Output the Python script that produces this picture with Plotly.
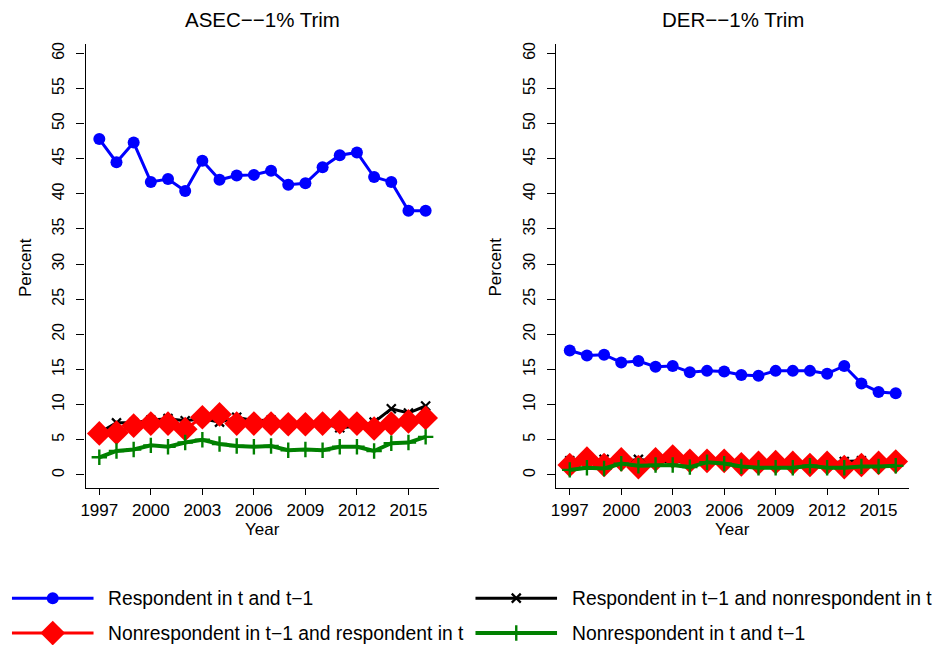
import plotly.graph_objects as go

W, H = 939, 645

years = list(range(1997, 2017))

# ASEC, 1% trim
asec_resp_both = [47.8, 44.5, 47.3, 41.7, 42.1, 40.4, 44.7, 42.0, 42.6, 42.7,
                  43.3, 41.3, 41.5, 43.8, 45.5, 45.9, 42.4, 41.7, 37.6, 37.6]
asec_resp_prev = [6.0, 7.4, 7.4, 7.8, 8.0, 7.7, 8.0, 7.5, 8.2, 7.7,
                  7.8, 7.3, 7.3, 7.3, 6.7, 6.9, 7.5, 9.4, 8.8, 9.8]
asec_nonresp_prev = [5.9, 6.0, 7.0, 7.3, 7.3, 6.5, 8.2, 8.6, 7.3, 7.3,
                     7.3, 7.2, 7.2, 7.3, 7.5, 7.3, 6.6, 7.3, 7.6, 8.1]
asec_nonresp_both = [2.5, 3.4, 3.6, 4.2, 4.0, 4.6, 5.0, 4.4, 4.1, 4.0,
                     4.1, 3.5, 3.6, 3.5, 4.0, 4.0, 3.4, 4.5, 4.6, 5.4]

# DER, 1% trim
der_resp_both = [17.7, 17.0, 17.1, 16.0, 16.2, 15.4, 15.5, 14.6, 14.8, 14.7,
                 14.2, 14.1, 14.8, 14.8, 14.8, 14.4, 15.5, 13.0, 11.8, 11.6]
der_resp_prev = [2.0, 1.9, 2.2, 1.8, 2.2, 1.9, 1.9, 1.8, 1.8, 1.8,
                 1.7, 1.7, 1.7, 1.7, 1.6, 1.6, 1.9, 2.0, 1.7, 1.8]
der_nonresp_prev = [1.4, 2.3, 1.4, 2.2, 1.1, 2.2, 2.6, 2.0, 2.0, 2.0,
                    1.5, 1.7, 1.8, 1.7, 1.4, 1.7, 1.1, 1.4, 1.7, 1.9]
der_nonresp_both = [0.7, 1.0, 0.9, 1.6, 1.3, 1.4, 1.4, 1.1, 1.8, 1.6,
                    1.2, 1.0, 1.0, 1.0, 1.3, 1.0, 1.0, 1.2, 1.2, 1.3]

panel_titles = ["ASEC\u2212\u22121% Trim", "DER\u2212\u22121% Trim"]
series_names = ["Respondent in t and t\u22121",
                "Respondent in t\u22121 and nonrespondent in t",
                "Nonrespondent in t\u22121 and respondent in t",
                "Nonrespondent in t and t\u22121"]
x_ticks = [1997, 2000, 2003, 2006, 2009, 2012, 2015]
y_ticks = list(range(0, 61, 5))

FONT = "Liberation Sans, Arial, Helvetica, sans-serif"

styles = [
    dict(color="#0000FF", width=3, symbol="circle", size=12, lw=0),
    dict(color="#000000", width=3, symbol="x-thin", size=9, lw=2.2),
    dict(color="#FF0000", width=3, symbol="diamond", size=19, lw=0),
    dict(color="#008000", width=4, symbol="cross-thin", size=11, lw=2.4),
]

panels = [
    [asec_resp_both, asec_resp_prev, asec_nonresp_prev, asec_nonresp_both],
    [der_resp_both, der_resp_prev, der_nonresp_prev, der_nonresp_both],
]

fig = go.Figure()


def px_x(p):
    return p / W


def px_y(p):
    return 1 - p / H


# plot-area pixel geometry
x_domains = [(81, 436.7), (554, 909.3)]
y_top, y_bot = 42, 487.7

for i, data in enumerate(panels):
    sfx = "" if i == 0 else "2"
    for vals, st, name in zip(data, styles, series_names):
        fig.add_trace(go.Scatter(
            x=years, y=vals, mode="lines+markers", name=name,
            xaxis="x" + sfx, yaxis="y" + sfx, showlegend=False,
            line=dict(color=st["color"], width=st["width"]),
            marker=dict(symbol=st["symbol"], size=st["size"], color=st["color"],
                        line=dict(color=st["color"], width=st["lw"])),
        ))

axis_common = dict(showline=True, linecolor="black", linewidth=1.3,
                   ticks="outside", tickwidth=1.3, tickcolor="black",
                   showgrid=False, zeroline=False)


def note(text, x, y, size=17, angle=0, xanchor="center"):
    fig.add_annotation(text=text, x=px_x(x), y=px_y(y), xref="paper",
                       yref="paper", xanchor=xanchor, yanchor="middle",
                       showarrow=False, textangle=angle,
                       font=dict(family=FONT, size=size, color="black"))


for i in range(2):
    sfx = "" if i == 0 else "2"
    x0, x1 = x_domains[i]
    fig.layout["xaxis" + sfx] = dict(
        axis_common, domain=[px_x(x0), px_x(x1)], range=[1996.2, 2016.8],
        tickvals=x_ticks, anchor="y" + sfx, ticklen=6, ticklabelstandoff=0,
        tickfont=dict(family=FONT, size=17, color="black"))
    fig.layout["yaxis" + sfx] = dict(
        axis_common, domain=[px_y(y_bot), px_y(y_top)], range=[-1.9, 61.35],
        tickvals=y_ticks, tickangle=-90, anchor="x" + sfx, ticklen=8,
        ticklabelstandoff=6,
        tickfont=dict(family=FONT, size=16, color="black"))
    cx = (x0 + x1) / 2
    note(panel_titles[i], cx, 18, size=20.5)
    note("Year", cx, 529)
    note("Percent", x0 - 61, 266, angle=-90)

# legend keys drawn on a full-figure pixel axis
fig.layout["xaxis3"] = dict(domain=[0, 1], range=[0, W], visible=False,
                            anchor="y3", fixedrange=True)
fig.layout["yaxis3"] = dict(domain=[0, 1], range=[H, 0], visible=False,
                            anchor="x3", fixedrange=True)

legend_slots = [(7, 89, 598), (473, 555, 598), (7, 89, 633), (473, 555, 633)]
for (lx0, lx1, ly), st, name in zip(legend_slots, styles, series_names):
    fig.add_trace(go.Scatter(
        x=[lx0, lx1], y=[ly, ly], mode="lines", xaxis="x3", yaxis="y3",
        showlegend=False, hoverinfo="skip",
        line=dict(color=st["color"], width=st["width"])))
    fig.add_trace(go.Scatter(
        x=[(lx0 + lx1) / 2], y=[ly], mode="markers", xaxis="x3", yaxis="y3",
        showlegend=False, hoverinfo="skip",
        marker=dict(symbol=st["symbol"], size=st["size"], color=st["color"],
                    line=dict(color=st["color"], width=st["lw"]))))
    note(name, lx1 + 13, ly, size=19.3, xanchor="left")

fig.update_layout(
    width=W, height=H, margin=dict(l=0, r=0, t=0, b=0),
    paper_bgcolor="white", plot_bgcolor="rgba(0,0,0,0)", showlegend=False,
)

fig.write_html("out.html")
